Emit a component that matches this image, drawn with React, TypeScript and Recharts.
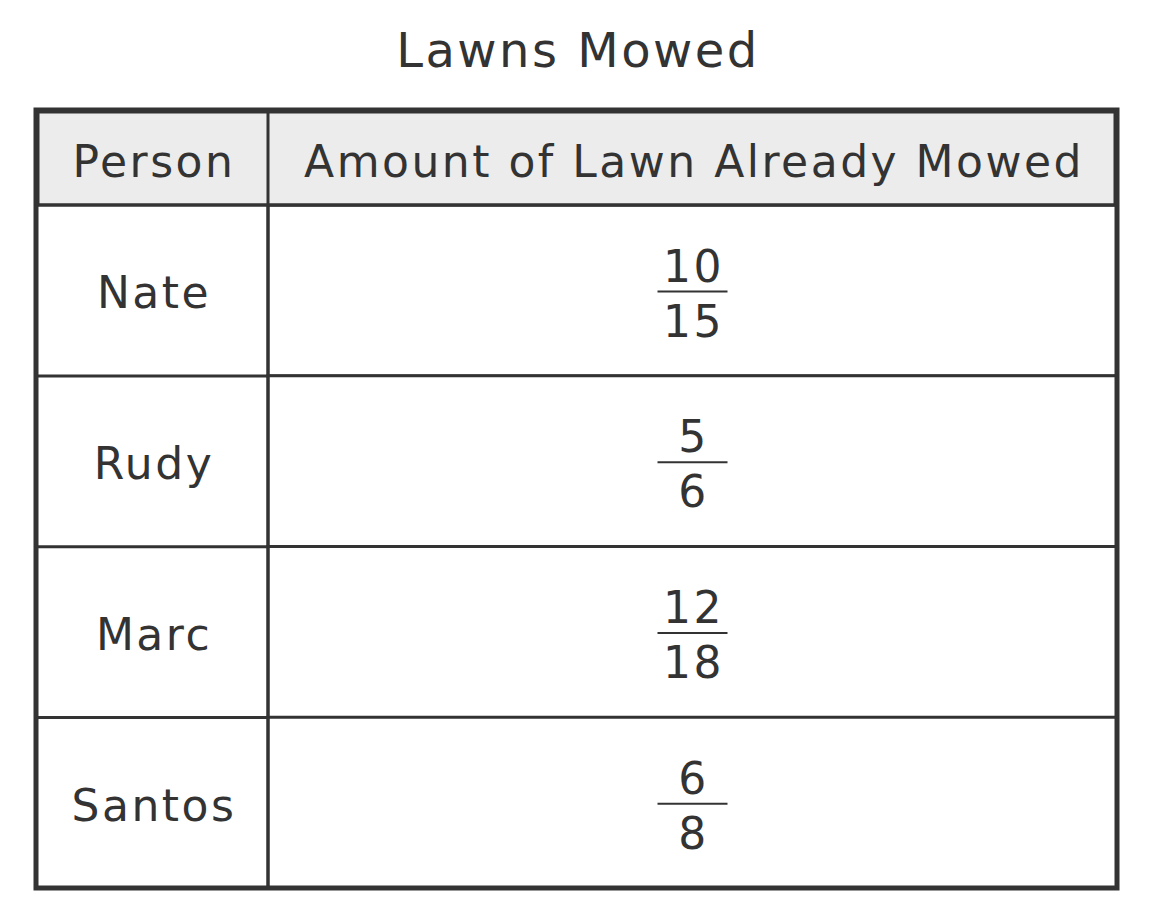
import React from "react";
import { BarChart, Bar, XAxis, YAxis } from "recharts";

const persons = ["Nate", "Rudy", "Marc", "Santos"];
const numerators = [10, 5, 12, 6];
const denominators = [15, 6, 18, 8];
const data = persons.map((p, i) => ({ person: p, full: 1, num: numerators[i], den: denominators[i] }));

const FONT = "'DejaVu Sans', Verdana, sans-serif";
const INK = "#333";
const TS = { letterSpacing: 2.5 };

const CellShape = (props: any) => {
  const { x, y, width, height, payload } = props;
  const cx = x + width / 2;
  const cy = y + height / 2;
  return (
    <g>
      <rect x={x} y={y} width={width} height={height} fill="#fff" stroke={INK} strokeWidth={3} />
      <line x1={36} x2={x} y1={y + height} y2={y + height} stroke={INK} strokeWidth={3} />
      <text x={cx + 1} y={cy - 9} textAnchor="middle" fontSize={44} fill={INK} fontFamily={FONT} style={TS}>{payload.num}</text>
      <line x1={cx - 35} x2={cx + 35} y1={cy + 1} y2={cy + 1} stroke={INK} strokeWidth={2} />
      <text x={cx + 1} y={cy + 46} textAnchor="middle" fontSize={44} fill={INK} fontFamily={FONT} style={TS}>{payload.den}</text>
    </g>
  );
};

const NameTick = (props: any) => {
  const { y, payload } = props;
  return (
    <text x={154} y={y + 18} textAnchor="middle" fontSize={44} fill={INK} fontFamily={FONT} style={TS}>{payload.value}</text>
  );
};

export default function App() {
  return (
    <div style={{ position: "absolute", left: 0, top: 0, width: 1150, height: 912, background: "#fff" }}>
      <BarChart width={1150} height={912} data={data} layout="vertical" barCategoryGap={0}
        margin={{ top: 205, right: 33, bottom: 24, left: 36 }}>
        <XAxis type="number" domain={[0, 1]} hide />
        <YAxis type="category" dataKey="person" width={232} axisLine={false} tickLine={false} tick={<NameTick />} />
        <Bar dataKey="full" isAnimationActive={false} shape={<CellShape />} />
      </BarChart>
      <svg width={1150} height={912} style={{ position: "absolute", left: 0, top: 0, pointerEvents: "none" }}>
        <text x={578} y={67} textAnchor="middle" fontSize={48} fill={INK} fontFamily={FONT} style={TS}>Lawns Mowed</text>
        <rect x={38} y={112} width={1077} height={93} fill="#ececec" stroke={INK} strokeWidth={3} />
        <text x={154} y={177} textAnchor="middle" fontSize={44} fill={INK} fontFamily={FONT} style={TS}>Person</text>
        <text x={694} y={177} textAnchor="middle" fontSize={44} fill={INK} fontFamily={FONT} style={TS}>Amount of Lawn Already Mowed</text>
        <line x1={268} x2={268} y1={112} y2={888} stroke={INK} strokeWidth={3} />
        <line x1={36} x2={1117} y1={205} y2={205} stroke={INK} strokeWidth={3} />
        <rect x={36} y={110} width={1081} height={778} fill="none" stroke={INK} strokeWidth={5} />
      </svg>
    </div>
  );
}
